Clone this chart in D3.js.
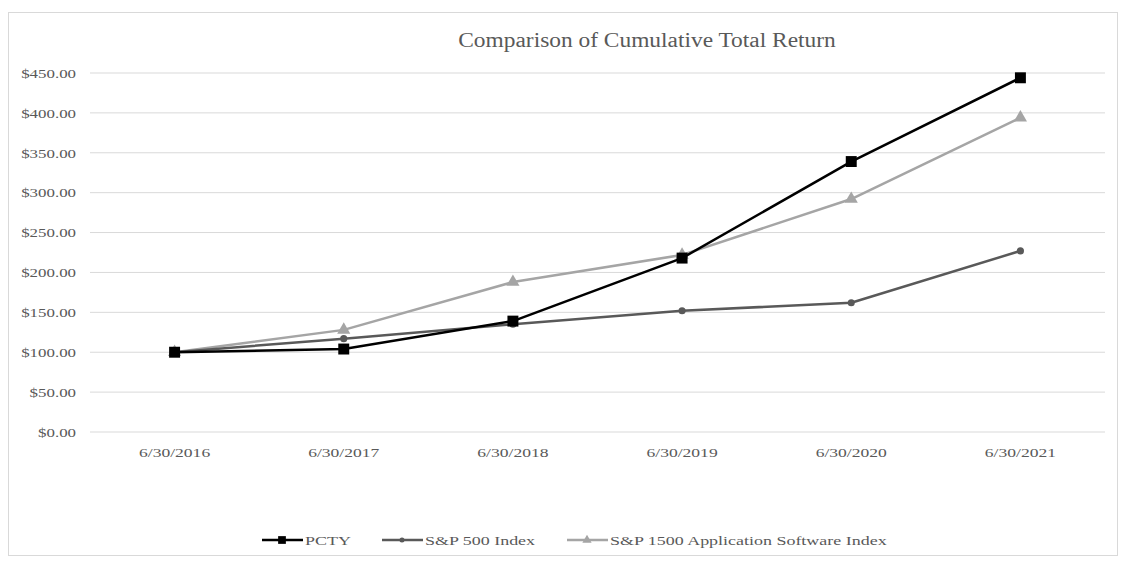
<!DOCTYPE html>
<html>
<head>
<meta charset="utf-8">
<script src="https://cdn.jsdelivr.net/npm/d3@7"></script>
<style>
  body { margin: 0; background: #fff; }
  svg { font-family: "Liberation Serif", "Times New Roman", serif; }
</style>
</head>
<body>
<div id="chart"></div>
<script>
// chart data
const dates = ["6/30/2016", "6/30/2017", "6/30/2018", "6/30/2019", "6/30/2020", "6/30/2021"];
const pcty = [100, 104, 139, 218, 339, 444];
const sp500 = [100, 117, 135, 152, 162, 227];
const sp1500 = [100, 128, 188, 222, 292, 394];
const yTicks = [0, 50, 100, 150, 200, 250, 300, 350, 400, 450];
const seriesNames = ["PCTY", "S&P 500 Index", "S&P 1500 Application Software Index"];

const W = 1127, H = 562;
const margin = {top: 73, right: 22, bottom: 130, left: 90};
const width = W - margin.left - margin.right,
      height = H - margin.top - margin.bottom;

// the scanned chart is stretched sideways, so widen text to match
function stretch(sel, k) {
  sel.each(function() {
    const len = this.getComputedTextLength();
    d3.select(this)
      .attr("textLength", len * k)
      .attr("lengthAdjust", "spacingAndGlyphs");
  });
}

const svg = d3.select("#chart").append("svg")
  .attr("width", W)
  .attr("height", H);

// outer chart border
svg.append("rect")
  .attr("x", 8.5).attr("y", 12.5)
  .attr("width", 1109).attr("height", 543)
  .attr("fill", "none")
  .attr("stroke", "#d9d9d9");

const g = svg.append("g")
  .attr("transform", `translate(${margin.left},${margin.top})`);

// title
svg.append("text")
  .attr("x", 647)
  .attr("y", 47)
  .attr("text-anchor", "middle")
  .style("font-size", "20px")
  .style("fill", "#595959")
  .text("Comparison of Cumulative Total Return")
  .call(stretch, 1.17);

const x = d3.scaleBand()
  .domain(dates)
  .range([0, width]);

const y = d3.scaleLinear()
  .domain([0, 450])
  .range([height, 0]);

// gridlines
g.selectAll(".grid")
  .data(yTicks)
  .join("line")
  .attr("x1", 0)
  .attr("x2", width)
  .attr("y1", d => y(d))
  .attr("y2", d => y(d))
  .attr("stroke", "#d9d9d9")
  .attr("stroke-width", 1);

// y axis labels
const yAxis = g.append("g")
  .call(d3.axisLeft(y).tickValues(yTicks).tickSize(0).tickPadding(14)
    .tickFormat(d => "$" + d3.format(",.2f")(d)));
yAxis.select(".domain").remove();
yAxis.selectAll("text")
  .style("font-family", "Liberation Serif, serif")
  .style("font-size", "13.5px")
  .style("fill", "#595959")
  .call(stretch, 1.25);

// x axis labels
const xAxis = g.append("g")
  .attr("transform", `translate(0,${height})`)
  .call(d3.axisBottom(x).tickSize(0).tickPadding(15));
xAxis.select(".domain").remove();
xAxis.selectAll("text")
  .style("font-family", "Liberation Serif, serif")
  .style("font-size", "13.5px")
  .style("fill", "#595959")
  .call(stretch, 1.3);

const cx = d => x(d) + x.bandwidth() / 2;

const series = [
  {name: seriesNames[0], values: pcty, color: "#000000", symbol: d3.symbolSquare, size: 120},
  {name: seriesNames[1], values: sp500, color: "#595959", symbol: d3.symbolCircle, size: 40},
  {name: seriesNames[2], values: sp1500, color: "#a5a5a5", symbol: d3.symbolTriangle, size: 75}
];

const line = d3.line()
  .x((d, i) => cx(dates[i]))
  .y(d => y(d));

// draw in reverse so PCTY sits on top
series.slice().reverse().forEach(s => {
  g.append("path")
    .datum(s.values)
    .attr("fill", "none")
    .attr("stroke", s.color)
    .attr("stroke-width", 2.5)
    .attr("stroke-linejoin", "round")
    .attr("d", line);

  g.selectAll(null)
    .data(s.values)
    .join("path")
    .attr("transform", (d, i) => `translate(${cx(dates[i])},${y(d)})`)
    .attr("d", d3.symbol().type(s.symbol).size(s.size))
    .attr("fill", s.color);
});

// legend
const legendX = [262, 382, 567];
const legendY = 540;
const legend = svg.selectAll(".legend")
  .data(series)
  .join("g")
  .attr("class", "legend")
  .attr("transform", (d, i) => `translate(${legendX[i]},${legendY})`);

legend.append("line")
  .attr("x1", 0).attr("x2", 41)
  .attr("y1", 0).attr("y2", 0)
  .attr("stroke", d => d.color)
  .attr("stroke-width", 2.5);

legend.append("path")
  .attr("transform", "translate(20,0)")
  .attr("d", d => d3.symbol().type(d.symbol).size(d.size * 0.5)())
  .attr("fill", d => d.color);

legend.append("text")
  .attr("x", 43)
  .attr("y", 0)
  .attr("dy", "0.35em")
  .style("font-size", "13.5px")
  .style("fill", "#595959")
  .text(d => d.name)
  .call(stretch, 1.33);
</script>
</body>
</html>
